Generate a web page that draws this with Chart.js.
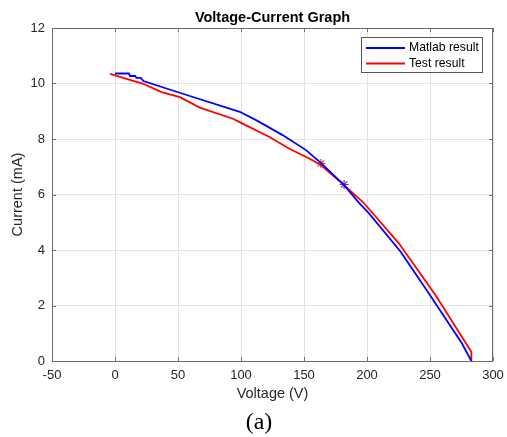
<!DOCTYPE html>
<html>
<head>
<meta charset="utf-8">
<script src="https://cdn.jsdelivr.net/npm/chart.js@4.4.1/dist/chart.umd.min.js"></script>
<style>
  html, body { margin: 0; padding: 0; background: #fff; }
  #wrap { width: 507px; height: 437px; position: relative; }
</style>
</head>
<body>
<div id="wrap"><canvas id="vcChart" width="507" height="437"></canvas></div>
<script>
// values
const matlabVoltage = [0, 11, 12, 16, 17, 20.5, 22.5, 60, 99, 112, 133, 151.6, 163.4, 181.8, 193.7, 201.6, 226.7, 249, 275.3, 282.8];
const matlabCurrent = [10.36, 10.36, 10.27, 10.27, 10.2, 10.2, 10.09, 9.54, 8.98, 8.68, 8.14, 7.6, 7.14, 6.34, 5.7, 5.32, 3.94, 2.44, 0.64, 0];
const testVoltage = [-3.9, 22.4, 37, 51.5, 67.3, 93.6, 98.9, 122.6, 138.4, 154.2, 163.4, 181.8, 197, 225.3, 254.3, 282.8, 282.8];
const testCurrent = [10.35, 9.99, 9.69, 9.51, 9.13, 8.73, 8.61, 8.07, 7.65, 7.3, 7.06, 6.34, 5.72, 4.24, 2.38, 0.33, 0];
const markerVoltage = [163.4, 181.8];
const markerCurrent = [7.12, 6.36];
const markerColors = ["#D95319", "#7E2F8E"];
const seriesLabels = ["Matlab result", "Test result"];

const toPoints = (xs, ys) => xs.map((x, i) => ({ x: x, y: ys[i] }));

const axisColor = "#6e6e6e";
const textColor = "#262626";
const sans = "Arial, 'Liberation Sans', sans-serif";

// MATLAB-like box, inward ticks, title, legend and caption
const matlabFrame = {
  id: "matlabFrame",
  afterDatasetsDraw(chart) {
    const ctx = chart.ctx;
    const a = chart.chartArea;
    const xs = chart.scales.x, ys = chart.scales.y;
    ctx.save();
    ctx.strokeStyle = axisColor;
    ctx.lineWidth = 1;
    ctx.strokeRect(a.left + 0.5, a.top + 0.5, a.right - a.left - 1, a.bottom - a.top);
    ctx.beginPath();
    xs.ticks.forEach(t => {
      const px = Math.round(xs.getPixelForValue(t.value)) + 0.5;
      ctx.moveTo(px, a.bottom); ctx.lineTo(px, a.bottom - 4);
      ctx.moveTo(px, a.top); ctx.lineTo(px, a.top + 4);
    });
    ys.ticks.forEach(t => {
      const py = Math.round(ys.getPixelForValue(t.value)) + 0.5;
      ctx.moveTo(a.left, py); ctx.lineTo(a.left + 4, py);
      ctx.moveTo(a.right, py); ctx.lineTo(a.right - 4, py);
    });
    ctx.stroke();

    // title
    ctx.fillStyle = "#000";
    ctx.font = "bold 14.5px " + sans;
    ctx.textAlign = "center";
    ctx.textBaseline = "middle";
    ctx.fillText("Voltage-Current Graph", (a.left + a.right) / 2, 17.5);

    // legend
    const lx = 361.5, ly = 37.5, lw = 121, lh = 35;
    ctx.fillStyle = "#fff";
    ctx.fillRect(lx, ly, lw, lh);
    ctx.strokeStyle = "#555";
    ctx.strokeRect(lx, ly, lw, lh);
    ctx.font = "12.2px " + sans;
    ctx.textAlign = "left";
    seriesLabels.forEach((lab, i) => {
      const ds = chart.data.datasets[i];
      const yy = 48 + i * 15.5;
      ctx.strokeStyle = ds.borderColor;
      ctx.lineWidth = 1.8;
      ctx.beginPath(); ctx.moveTo(366, yy); ctx.lineTo(405, yy); ctx.stroke();
      ctx.fillStyle = "#000";
      ctx.fillText(lab, 409, yy);
    });

    // caption
    ctx.font = "24px 'Liberation Serif', 'Times New Roman', serif";
    ctx.textAlign = "center";
    ctx.fillText("(a)", 259, 423);
    ctx.restore();
  }
};

new Chart(document.getElementById("vcChart"), {
  type: "scatter",
  data: {
    datasets: [
      {
        label: seriesLabels[0],
        data: toPoints(matlabVoltage, matlabCurrent),
        showLine: true,
        borderColor: "#0000FF",
        borderWidth: 1.8,
        pointRadius: 0,
        tension: 0,
      },
      {
        label: seriesLabels[1],
        data: toPoints(testVoltage, testCurrent),
        showLine: true,
        borderColor: "#FF0000",
        borderWidth: 1.8,
        pointRadius: 0,
        tension: 0,
      },
      {
        label: "operating point 1",
        data: [{ x: markerVoltage[0], y: markerCurrent[0] }],
        pointStyle: "star",
        pointRadius: 4.5,
        borderColor: markerColors[0],
        borderWidth: 1.2,
        backgroundColor: markerColors[0],
      },
      {
        label: "operating point 2",
        data: [{ x: markerVoltage[1], y: markerCurrent[1] }],
        pointStyle: "star",
        pointRadius: 4.5,
        borderColor: markerColors[1],
        borderWidth: 1.2,
        backgroundColor: markerColors[1],
      },
    ],
  },
  options: {
    responsive: false,
    animation: false,
    devicePixelRatio: 1,
    layout: { padding: { left: 0, right: 14, top: 28, bottom: 0 } },
    plugins: {
      legend: { display: false },
      tooltip: { enabled: false },
    },
    scales: {
      x: {
        type: "linear",
        min: -50,
        max: 300,
        ticks: { stepSize: 50, color: textColor, font: { size: 13, family: sans }, padding: 7, maxRotation: 0 },
        grid: { color: "#e3e3e3", drawTicks: false },
        border: { display: false },
        title: { display: true, text: "Voltage (V)", color: textColor, font: { size: 14.5, family: sans }, padding: { top: 4, bottom: 34 } },
        afterFit: function (scale) {
          scale.height = 76;
          scale.paddingLeft = 0;
          scale.paddingRight = 0;
        },
      },
      y: {
        min: 0,
        max: 12,
        ticks: { stepSize: 2, color: textColor, font: { size: 13, family: sans }, padding: 7 },
        grid: { color: "#e3e3e3", drawTicks: false },
        border: { display: false },
        title: { display: true, text: "Current (mA)", color: textColor, font: { size: 14.5, family: sans }, padding: { top: 9, bottom: 4 } },
        afterFit: function (scale) {
          scale.width = 52;
          scale.paddingTop = 0;
          scale.paddingBottom = 0;
        },
      },
    },
  },
  plugins: [matlabFrame],
});
</script>
</body>
</html>
